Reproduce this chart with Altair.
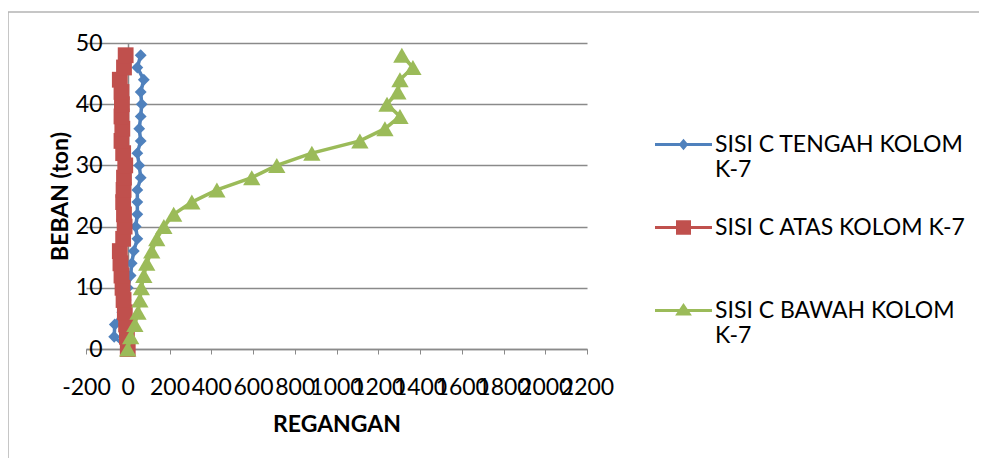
import altair as alt
import pandas as pd

# ---- data ----
loads = [0, 2, 4, 6, 8, 10, 12, 14, 16, 18, 20, 22, 24, 26, 28, 30, 32, 34, 36, 38, 40, 42, 44, 46, 48]
tengah = [0, -65, -62, -26, -10, 0, 14, 19, 29, 46, 38, 46, 46, 46, 62, 55, 46, 62, 55, 62, 67, 62, 77, 46, 62]
atas = [0, -4, -8, -14, -20, -25, -30, -35, -38, -22, -15, -18, -22, -20, -18, -12, -22, -30, -26, -30, -28, -30, -38, -18, -10]
bawah = [0, 14, 34, 49, 58, 65, 77, 91, 115, 139, 173, 220, 307, 427, 594, 714, 882, 1112, 1232, 1304, 1242, 1294, 1304, 1366, 1313]

series_names = ["SISI C TENGAH KOLOM K-7", "SISI C ATAS KOLOM K-7", "SISI C BAWAH KOLOM K-7"]
series_values = [tengah, atas, bawah]
colors = ["#4F81BD", "#C0504D", "#9BBB59"]
marker_shapes = ["diamond", "square", "triangle-up"]
marker_sizes = [140, 250, 300]

x_ticks = [-200, 0, 200, 400, 600, 800, 1000, 1200, 1400, 1600, 1800, 2000, 2200]
y_ticks = [0, 10, 20, 30, 40, 50]

rows = []
for name, vals in zip(series_names, series_values):
    for ld, v in zip(loads, vals):
        rows.append({"series": name, "regangan": v, "beban": ld})
df = pd.DataFrame(rows)

FONT = "Lato"
GRAY = "#8a8a8a"

# legend symbols: line segment + marker
dy = 0.0
def line_part():
    return f"M-4.75,{dy-0.25:.3f} H4.75 V{dy+0.25:.3f} H-4.75 Z "
legend_paths = [
    line_part() + f"M0,{dy-0.95:.3f} L0.8,{dy:.3f} L0,{dy+0.95:.3f} L-0.8,{dy:.3f} Z",
    line_part() + f"M-1.25,{dy-1.2:.3f} H1.25 V{dy+1.2:.3f} H-1.25 Z",
    line_part() + f"M0,{dy-1.25:.3f} L1.4,{dy+0.85:.3f} L-1.4,{dy+0.85:.3f} Z",
]

label_expr = (
    "datum.label == 'SISI C TENGAH KOLOM K-7' ? ['SISI C TENGAH KOLOM', 'K-7'] : "
    "datum.label == 'SISI C BAWAH KOLOM K-7' ? ['SISI C BAWAH KOLOM', 'K-7'] : [datum.label, '']"
)

legend_spec = alt.Legend(
    title=None, orient="none", legendX=586, legendY=90, padding=0,
    labelFont=FONT, labelFontSize=23, labelColor="black", labelLimit=600,
    labelOffset=20, labelBaseline="middle", labelExpr=label_expr,
    symbolSize=144, symbolStrokeWidth=0, symbolOpacity=1, rowPadding=34,
)

x_enc = alt.X(
    "regangan:Q",
    scale=alt.Scale(domain=[-200, 2200], nice=False, zero=False),
    axis=alt.Axis(
        values=x_ticks, title="REGANGAN", grid=False, labelOverlap=False, labelFlush=False,
        labelExpr="'' + datum.value",
        labelFont=FONT, labelFontSize=23, labelColor="black", labelPadding=22,
        tickSize=5, tickColor=GRAY, domainColor=GRAY, domainWidth=1.5,
        titleFont=FONT, titleFontSize=23, titleFontWeight="bold", titleColor="black", titlePadding=14,
    ),
)
y_enc = alt.Y(
    "beban:Q",
    scale=alt.Scale(domain=[0, 50], nice=False, zero=False),
    axis=alt.Axis(
        values=y_ticks, title="BEBAN (ton)", grid=True, gridColor=GRAY, gridWidth=1.5, offset=-42,
        labelFont=FONT, labelFontSize=23, labelColor="black", labelPadding=21,
        tickSize=5, tickColor=GRAY, domainColor=GRAY, domainWidth=1.5,
        titleFont=FONT, titleFontSize=23, titleFontWeight="bold", titleColor="black", titlePadding=3,
    ),
)

base = alt.Chart(df)

frame = alt.Chart(pd.DataFrame({"f": [0]})).mark_rect(
    fillOpacity=0, stroke="#b4b4b4", strokeWidth=1.5
).encode(x=alt.value(-78), x2=alt.value(1000), y=alt.value(-31), y2=alt.value(500))

layers = [frame]
for name, col, shp, sz in zip(series_names, colors, marker_shapes, marker_sizes):
    sub = base.transform_filter(alt.datum.series == name)
    layers.append(
        sub.mark_line(strokeWidth=3.5, color=col).encode(
            x=x_enc, y=y_enc, order=alt.Order("beban:Q"),
        )
    )
    layers.append(
        sub.mark_point(shape=shp, filled=True, size=sz, opacity=1, strokeWidth=0, color=col).encode(
            x=x_enc, y=y_enc,
        )
    )

legend_layer = base.mark_point(filled=True, size=0, strokeWidth=0).encode(
    x=x_enc, y=y_enc,
    color=alt.Color("series:N", scale=alt.Scale(domain=series_names, range=colors), legend=legend_spec),
    shape=alt.Shape("series:N", scale=alt.Scale(domain=series_names, range=legend_paths), legend=legend_spec),
)
layers.append(legend_layer)

chart = alt.layer(*layers).properties(
    width=501, height=306,
    autosize=alt.AutoSizeParams(type="none"),
    padding={"left": 78, "top": 35, "right": 392, "bottom": 109},
    background="white",
).configure_view(strokeWidth=0)

chart.save("out.html", embed_options={"renderer": "svg", "actions": False})
